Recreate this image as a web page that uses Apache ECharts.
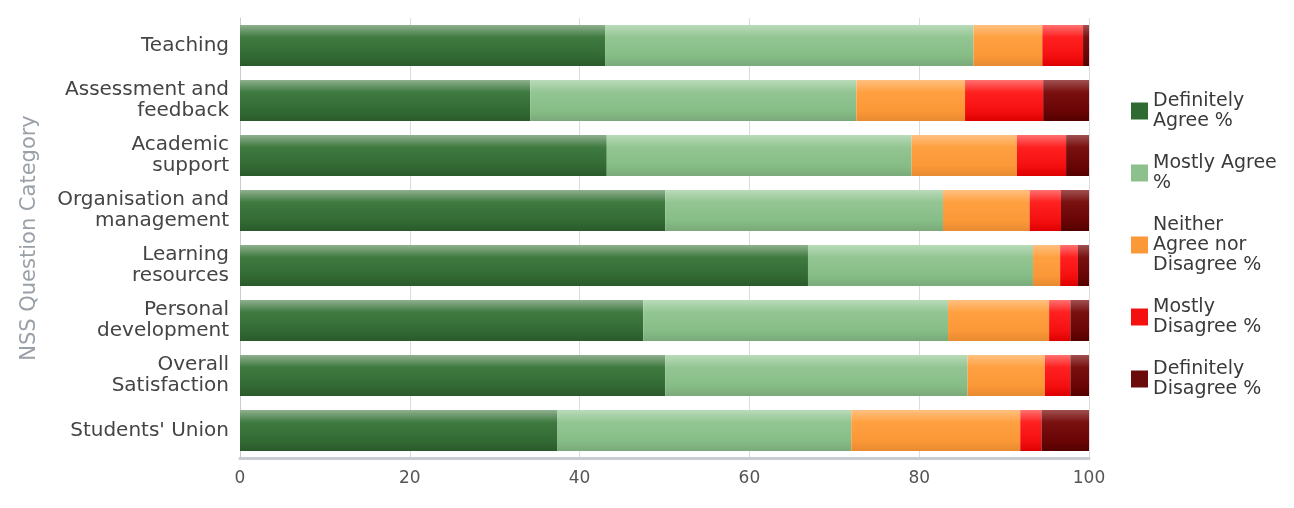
<!DOCTYPE html>
<html><head><meta charset="utf-8">
<script src="https://cdn.jsdelivr.net/npm/echarts@6/dist/echarts.min.js"></script>
<style>html,body{margin:0;padding:0;background:#fff}#c{width:1294px;height:508px}</style>
</head><body><div id="c"></div>
<script>
const categories = ["Teaching","Assessment and\nfeedback","Academic\nsupport","Organisation and\nmanagement","Learning\nresources","Personal\ndevelopment","Overall\nSatisfaction","Students' Union"];
const definitelyAgree    = [43, 34.2, 43.2, 50.1, 66.9, 47.5, 50.1, 37.4];
const mostlyAgree        = [43.4, 38.4, 35.9, 32.7, 26.5, 35.9, 35.6, 34.6];
const neither            = [8.1, 12.8, 12.4, 10.2, 3.2, 11.9, 9.1, 19.9];
const mostlyDisagree     = [4.8, 9.2, 5.8, 3.7, 2.1, 2.5, 3.0, 2.5];
const definitelyDisagree = [0.7, 5.4, 2.7, 3.3, 1.3, 2.2, 2.2, 5.6];
const seriesNames = ["Definitely\nAgree %","Mostly Agree\n%","Neither\nAgree nor\nDisagree %","Mostly\nDisagree %","Definitely\nDisagree %"];
const xTicks = [0,20,40,60,80,100];

const palettes = [
  {top:'#8fb08f', mid:'#3f7a40', base:'#336a34', edge:'#2a5a2b', legend:'#2f6a30'},
  {top:'#b9dbb9', mid:'#93c593', base:'#86bd86', edge:'#7aa97a', legend:'#8cc08c'},
  {top:'#ffc080', mid:'#ffa040', base:'#fb9838', edge:'#e88a30', legend:'#fb9838'},
  {top:'#ff7070', mid:'#ff2020', base:'#f51010', edge:'#d00', legend:'#f51010'},
  {top:'#a05050', mid:'#7a1010', base:'#6a0505', edge:'#500', legend:'#6a0a0a'}
];
function grad(p){
  return new echarts.graphic.LinearGradient(0,0,0,1,[
    {offset:0,color:p.top},{offset:0.3,color:p.mid},{offset:0.75,color:p.base},{offset:1,color:p.edge}
  ]);
}
const dataSets = [definitelyAgree,mostlyAgree,neither,mostlyDisagree,definitelyDisagree];
const series = dataSets.map((d,i)=>({
  name: seriesNames[i], type:'bar', stack:'all', data:d, barWidth:41,
  itemStyle:{color:grad(palettes[i])},
  emphasis:{disabled:true}
}));

const chart = echarts.init(document.getElementById('c'),null,{renderer:'canvas'});
chart.setOption({
  animation:false,
  textStyle:{fontFamily:'DejaVu Sans'},
  grid:{left:240,right:205,top:18,bottom:50,containLabel:false},
  legend:{
    orient:'vertical', left:1126, top:86, itemWidth:17, itemHeight:17, itemGap:22,
    icon:'rect',
    data: seriesNames.map((n,i)=>({name:n,itemStyle:{color:palettes[i].legend}})),
    textStyle:{fontSize:19,color:'#3a3a3a',lineHeight:20,fontFamily:'DejaVu Sans'}
  },
  xAxis:{
    type:'value', min:0, max:100, interval:20,
    axisLine:{show:true,lineStyle:{color:'#c8cdd4',width:3}},
    axisTick:{show:false},
    splitLine:{show:true,lineStyle:{color:'#dcdcdc',width:1}},
    axisLabel:{fontSize:17,color:'#555',margin:12,fontFamily:'DejaVu Sans',
      formatter:v=>xTicks.includes(v)?String(v):''}
  },
  yAxis:{
    type:'category', data:categories, inverse:true,
    axisLine:{show:true,lineStyle:{color:'#c8cdd4',width:1}},
    axisTick:{show:false},
    axisLabel:{fontSize:20,color:'#444',margin:11,lineHeight:21,align:'right',fontFamily:'DejaVu Sans'},
    name:'NSS Question Category', nameLocation:'middle', nameGap:200, nameRotate:90,
    nameTextStyle:{fontSize:21,color:'#9aa0a8',fontFamily:'DejaVu Sans'}
  },
  series: series
});
</script></body></html>
